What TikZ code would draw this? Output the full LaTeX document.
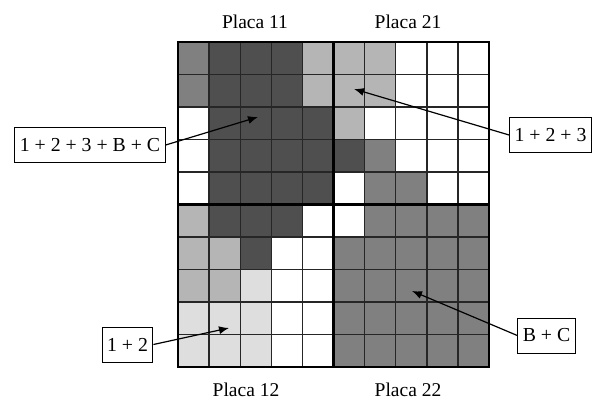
\documentclass[tikz,border=0pt]{standalone}
\usepackage{fontspec}
\setmainfont{Liberation Serif}
\usetikzlibrary{arrows.meta}

\definecolor{dk}{gray}{0.31}
\definecolor{md}{gray}{0.50}
\definecolor{lt}{gray}{0.71}
\definecolor{vl}{gray}{0.87}
\definecolor{wh}{gray}{1.00}

\tikzset{
  cellline/.style={line width=1.4pt, black!85},
  plateline/.style={line width=2.8pt},
  tag/.style={draw, line width=1pt, fill=white, minimum height=35pt, inner xsep=5pt},
  plate/.style={font=\fontsize{19.5}{23}\selectfont},
}

\begin{document}
\begin{tikzpicture}[x=1pt, y=-1pt, font=\fontsize{19.8}{23}\selectfont, >={Latex[length=10pt,width=8pt]}]
  \useasboundingbox (0,0) rectangle (597,404);

  % Cells, row by row
  \foreach \row [count=\r] in {
      {md,dk,dk,dk,lt,lt,lt,wh,wh,wh},
      {md,dk,dk,dk,lt,lt,lt,wh,wh,wh},
      {wh,dk,dk,dk,dk,lt,wh,wh,wh,wh},
      {wh,dk,dk,dk,dk,dk,md,wh,wh,wh},
      {wh,dk,dk,dk,dk,wh,md,md,wh,wh},
      {lt,dk,dk,dk,wh,wh,md,md,md,md},
      {lt,lt,dk,wh,wh,md,md,md,md,md},
      {lt,lt,vl,wh,wh,md,md,md,md,md},
      {vl,vl,vl,wh,wh,md,md,md,md,md},
      {vl,vl,vl,wh,wh,md,md,md,md,md}}
    \foreach \c [count=\k] in \row
      \fill[\c] ({178+(\k-1)*31.1},{42+(\r-1)*32.5}) rectangle ++(31.1,32.5);

  % Grid
  \foreach \k in {1,...,9} {
    \draw[cellline] ({178+\k*31.1},42) -- ({178+\k*31.1},367);
    \draw[cellline] (178,{42+\k*32.5}) -- (489,{42+\k*32.5});
  }
  \draw[plateline] (178,42) rectangle (489,367);
  \draw[plateline] (333.5,42) -- (333.5,367);
  \draw[plateline] (178,204.5) -- (489,204.5);

  % Plate names
  \node[plate] (p11) at (255,22)  {Placa 11};
  \node[plate] (p21) at (408,22)  {Placa 21};
  \node[plate] (p12) at (246,390) {Placa 12};
  \node[plate] (p22) at (408,390) {Placa 22};

  % Tags
  \node[tag] (all)  at (90,145)    {1 + 2 + 3 + B + C};
  \node[tag] (ott)  at (550.5,135) {1 + 2 + 3};
  \node[tag] (ot)   at (127.5,344.5) {1 + 2};
  \node[tag] (bc)   at (546.5,335.5) {B + C};

  \coordinate (in11) at (258,117);
  \coordinate (in21) at (354,89);
  \coordinate (in12) at (229,328);
  \coordinate (in22) at (412,291);

  \draw[->, line width=1.2pt] (all.east) -- (in11);
  \draw[->, line width=1.2pt] (ott.west) -- (in21);
  \draw[->, line width=1.2pt] (ot.east) -- (in12);
  \draw[->, line width=1.2pt] (bc.west) -- (in22);
\end{tikzpicture}
\end{document}
